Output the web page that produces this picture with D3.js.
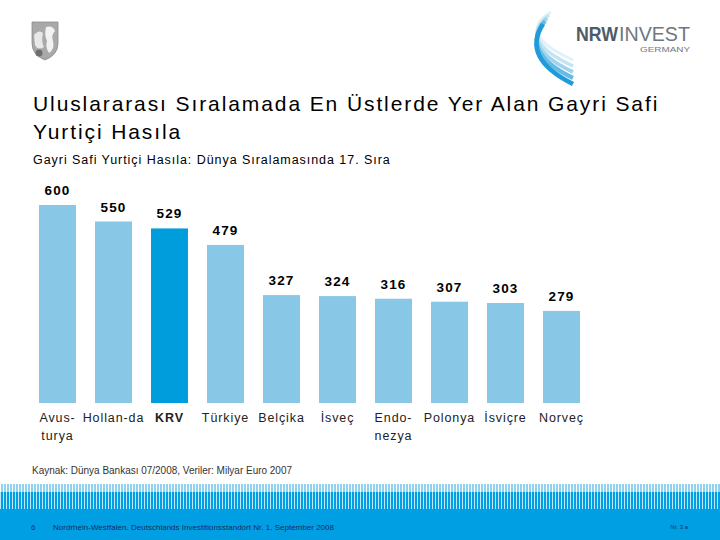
<!DOCTYPE html>
<html>
<head>
<meta charset="utf-8">
<script src="https://cdn.jsdelivr.net/npm/d3@7"></script>
<style>
  html, body { margin: 0; padding: 0; background: #fff; }
  svg { display: block; font-family: Arial, "Liberation Sans", sans-serif; }
</style>
</head>
<body>
<svg id="chart"></svg>
<script>
//--------------------------------------------
// DATA
//--------------------------------------------
const categories = [["Avus-", "turya"], ["Hollan-da"], ["KRV"], ["Türkiye"], ["Belçika"],
                    ["İsveç"], ["Endo-", "nezya"], ["Polonya"], ["İsviçre"], ["Norveç"]];
const values = [600, 550, 529, 479, 327, 324, 316, 307, 303, 279];
const highlight = "KRV";

const title = ["Uluslararası Sıralamada En Üstlerde Yer Alan Gayri Safi", "Yurtiçi Hasıla"];
const subtitle = "Gayri Safi Yurtiçi Hasıla: Dünya Sıralamasında 17. Sıra";
const source = "Kaynak: Dünya Bankası 07/2008, Veriler: Milyar Euro 2007";
const footer = "Nordrhein-Westfalen. Deutschlands Investitionsstandort Nr. 1. September 2008";

//--------------------------------------------
// CONFIG
//--------------------------------------------
const width = 720, height = 540;
const barLight = "#88c7e6", barDark = "#009ddd", nrwBlue = "#009fe3";

const svg = d3.select("#chart")
  .attr("width", width)
  .attr("height", height)
  .attr("viewBox", [0, 0, width, height]);

//--------------------------------------------
// HEADER LOGOS
//--------------------------------------------
// coat of arms (rough)
const arms = svg.append("g").attr("transform", "translate(31,21)");
arms.append("path")
  .attr("d", "M1,1 H27 V22 Q27,34 14,39 Q1,34 1,22 Z")
  .attr("fill", "#a9a9a9").attr("stroke", "#8c8c8c").attr("stroke-width", 0.8);
arms.append("path")
  .attr("d", "M3,14 Q8,8 12,12 Q10,20 13,26 Q7,30 4,24 Z")
  .attr("fill", "#e8e8e8");
arms.append("path")
  .attr("d", "M15,6 Q22,4 24,10 Q20,14 22,20 Q24,28 18,32 Q14,26 16,20 Q13,14 15,6 Z")
  .attr("fill", "#f2f2f2");
arms.append("circle").attr("cx", 8).attr("cy", 32).attr("r", 3.5).attr("fill", "#6e6e6e");

// NRW INVEST swoosh
const logo = svg.append("g").attr("transform", "translate(515,8)");
const swooshCols = ["#e1f1f9", "#c4e4f4", "#9fd3ee", "#66bbe6", "#1f9bd9"];
swooshCols.forEach((c, i) => {
  const y0 = 4 + i * 3, y1 = 30 + i * 6;
  logo.append("path")
    .attr("d", `M${36 - i * 2},${y0} Q${i * 1.5},${y1 - 4} ${58},${y1 + 22}`)
    .attr("fill", "none").attr("stroke", c).attr("stroke-width", 3 + i * 0.4);
});
logo.append("text").attr("x", 61).attr("y", 33)
  .attr("font-size", 20).attr("font-weight", "bold").attr("fill", "#4f5b66")
  .attr("textLength", 42).attr("lengthAdjust", "spacingAndGlyphs")
  .text("NRW");
logo.append("text").attr("x", 104).attr("y", 33)
  .attr("font-size", 20).attr("fill", "#6d7882")
  .attr("textLength", 71).attr("lengthAdjust", "spacingAndGlyphs")
  .text("INVEST");
logo.append("text").attr("x", 175).attr("y", 44)
  .attr("font-size", 8).attr("fill", "#6d7882").attr("text-anchor", "end")
  .attr("textLength", 50).attr("lengthAdjust", "spacingAndGlyphs")
  .text("GERMANY");

//--------------------------------------------
// TITLES
//--------------------------------------------
svg.append("g").selectAll("text")
  .data(title)
  .join("text")
    .attr("x", 33)
    .attr("y", (d, i) => 111 + i * 28)
    .attr("font-size", 21)
    .attr("letter-spacing", 1.9)
    .attr("fill", "#000")
    .text(d => d);

svg.append("text")
  .attr("x", 33).attr("y", 164)
  .attr("font-size", 12.5)
  .attr("letter-spacing", 0.95)
  .attr("fill", "#000")
  .text(subtitle);

//--------------------------------------------
// BARS
//--------------------------------------------
const names = categories.map(d => d.join(""));
const x = d3.scaleBand()
  .domain(names)
  .range([29.5, 589.5])
  .paddingInner(0.34)
  .paddingOuter(0.17);

const y = d3.scaleLinear()
  .domain([0, 600])
  .range([403, 205]);

const bars = svg.append("g");
bars.selectAll("rect")
  .data(values)
  .join("rect")
    .attr("x", (d, i) => x(names[i]))
    .attr("y", d => y(d))
    .attr("width", x.bandwidth())
    .attr("height", d => y(0) - y(d))
    .attr("fill", (d, i) => names[i] === highlight ? barDark : barLight);

bars.selectAll("text.val")
  .data(values)
  .join("text")
    .attr("class", "val")
    .attr("x", (d, i) => x(names[i]) + x.bandwidth() / 2)
    .attr("y", d => y(d) - 10)
    .attr("text-anchor", "middle")
    .attr("font-size", 13.5)
    .attr("font-weight", "bold")
    .attr("letter-spacing", 1.2)
    .attr("fill", "#000")
    .text(d => d);

// category labels (wrapped)
const cat = svg.append("g").selectAll("text")
  .data(categories)
  .join("text")
    .attr("x", (d, i) => x(names[i]) + x.bandwidth() / 2)
    .attr("y", 421.5)
    .attr("text-anchor", "middle")
    .attr("font-size", 12.5)
    .attr("letter-spacing", 0.9)
    .attr("fill", "#222")
    .attr("font-weight", (d, i) => names[i] === highlight ? "bold" : "normal");
cat.selectAll("tspan")
  .data(d => d)
  .join("tspan")
    .attr("x", function() { return d3.select(this.parentNode).attr("x"); })
    .attr("dy", (d, i) => i === 0 ? 0 : 18)
    .text(d => d);

// source
svg.append("text")
  .attr("x", 32).attr("y", 473.5)
  .attr("font-size", 10)
  .attr("fill", "#333")
  .attr("textLength", 260).attr("lengthAdjust", "spacingAndGlyphs")
  .text(source);

//--------------------------------------------
// FOOTER BAND
//--------------------------------------------
const defs = svg.append("defs");
const pat = defs.append("pattern")
  .attr("id", "stripes").attr("patternUnits", "userSpaceOnUse")
  .attr("width", 3).attr("height", 30);
pat.append("rect").attr("width", 3).attr("height", 30).attr("fill", "#fff");
pat.append("rect").attr("x", 1).attr("width", 2).attr("height", 12).attr("fill", "#8fd3f0");
pat.append("rect").attr("y", 12).attr("width", 3).attr("height", 18).attr("fill", "#bfe6f7");
pat.append("rect").attr("x", 1).attr("y", 12).attr("width", 2).attr("height", 18).attr("fill", nrwBlue);

svg.append("rect")
  .attr("x", 0).attr("y", 484).attr("width", width).attr("height", 25)
  .attr("fill", "url(#stripes)");
svg.append("rect")
  .attr("x", 0).attr("y", 509).attr("width", width).attr("height", 31)
  .attr("fill", nrwBlue);

svg.append("text")
  .attr("x", 31).attr("y", 529.5)
  .attr("font-size", 8).attr("fill", "#1b2c5e")
  .text("6");
svg.append("text")
  .attr("x", 53).attr("y", 529.5)
  .attr("font-size", 8).attr("fill", "#1b2c5e")
  .attr("textLength", 281).attr("lengthAdjust", "spacingAndGlyphs")
  .text(footer);
svg.append("text")
  .attr("x", 688).attr("y", 529)
  .attr("font-size", 6).attr("fill", "#1b2c5e").attr("text-anchor", "end")
  .text("Nr. 3 a");
</script>
</body>
</html>
